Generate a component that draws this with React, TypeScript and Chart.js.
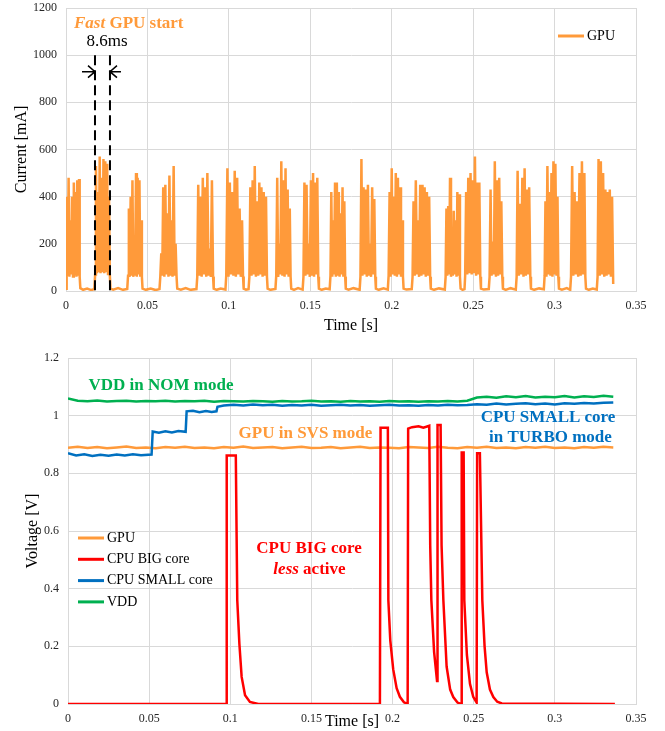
import { useEffect, useRef } from 'react';
import { Chart, registerables } from 'chart.js';

Chart.register(...registerables);

const SERIF = '"Liberation Serif", "Times New Roman", serif';

// ---------- Top chart: GPU current (time in ms, current in mA) ----------
const gpuTimeMs = [
  0, 0.2, 0.6, 1.1, 1.6, 2.1, 2.7, 3.2, 3.7, 4.3, 4.8, 5.3, 5.9, 6.4, 6.9, 7.5, 8.0, 8.4, 8.8,
  10.5, 13, 15.5, 17.4,
  17.9, 18.4, 19.0, 19.5, 20.1, 20.7, 21.2, 21.8, 22.4, 23.0, 23.5, 24.1, 24.7, 25.3, 25.8, 26.4, 26.9, 27.3,
  29, 32, 35, 37.6,
  38.1, 38.6, 39.1, 39.7, 40.2, 40.8, 41.3, 41.9, 42.4, 43.0, 43.5, 44.0, 44.6, 45.1, 45.6, 46.2, 46.6, 47.0,
  49, 52, 55, 57.4,
  57.9, 58.5, 59.1, 59.7, 60.4, 61.0, 61.6, 62.3, 62.9, 63.5, 64.2, 64.8, 65.4, 66.1, 66.7, 67.3, 67.9, 68.3,
  70.5, 73.5, 76.5, 80.1,
  80.6, 81.2, 81.9, 82.6, 83.3, 84.0, 84.7, 85.4, 86.1, 86.8, 87.5, 88.2, 88.9, 89.6, 90.3, 90.7,
  92.5, 95, 97.9,
  98.4, 99.1, 99.8, 100.6, 101.3, 102.1, 102.8, 103.6, 104.3, 105.1, 105.8, 106.6, 107.3, 108.1, 108.7, 109.1,
  110.5, 112.1,
  112.6, 113.2, 113.9, 114.6, 115.3, 115.9, 116.6, 117.3, 118.0, 118.7, 119.3, 120.0, 120.7, 121.4, 122.1, 122.8, 123.4, 123.8,
  125.5, 128.6,
  129.1, 129.7, 130.3, 131.0, 131.6, 132.2, 132.9, 133.5, 134.2, 134.8, 135.4, 136.1, 136.7, 137.4, 137.9, 138.3,
  140, 142.5, 145.3,
  145.8, 146.4, 147.0, 147.7, 148.4, 149.0, 149.7, 150.4, 151.0, 151.7, 152.3, 153.0, 153.7, 154.3, 154.9, 155.3,
  157, 159.5, 161.9,
  162.4, 162.9, 163.5, 164.0, 164.6, 165.2, 165.7, 166.3, 166.9, 167.5, 168.0, 168.6, 169.2, 169.8, 170.3, 170.9, 171.4, 171.8,
  173.5, 176.5, 180.3,
  180.8, 181.4, 182.0, 182.7, 183.4, 184.0, 184.7, 185.4, 186.0, 186.7, 187.3, 188.0, 188.7, 189.3, 189.9, 190.3,
  192, 195, 197.6,
  198.1, 198.7, 199.3, 200.0, 200.6, 201.2, 201.9, 202.5, 203.2, 203.8, 204.4, 205.1, 205.7, 206.4, 206.9, 207.3,
  209, 212.3,
  212.8, 213.4, 214.1, 214.8, 215.5, 216.1, 216.8, 217.5, 218.2, 218.9, 219.5, 220.2, 220.9, 221.6, 222.3, 223.0, 223.6, 224.0,
  226, 229, 232.6,
  233.1, 233.6, 234.1, 234.7, 235.3, 235.8, 236.4, 236.9, 237.5, 238.1, 238.6, 239.2, 239.8, 240.3, 240.9, 241.4, 241.9, 242.3,
  243.5, 244.7,
  245.1, 245.7, 246.4, 247.0, 247.7, 248.4, 249.1, 249.8, 250.4, 251.1, 251.8, 252.5, 253.2, 253.8, 254.4, 254.8,
  256.5, 259.6,
  260.1, 260.7, 261.3, 262.0, 262.7, 263.3, 264.0, 264.7, 265.3, 266.0, 266.7, 267.3, 267.9, 268.3,
  270, 273, 276.2,
  276.7, 277.3, 278.0, 278.7, 279.5, 280.2, 280.9, 281.6, 282.3, 283.0, 283.7, 284.4, 285.1, 285.5,
  287.5, 290.5, 293.4,
  293.9, 294.4, 295.0, 295.6, 296.3, 296.9, 297.5, 298.1, 298.7, 299.3, 299.9, 300.5, 301.2, 301.8, 302.3, 302.7,
  304.5, 307.5, 309.6,
  310.1, 310.8, 311.5, 312.3, 313.0, 313.8, 314.5, 315.3, 316.0, 316.8, 317.5, 318.3, 318.9, 319.3,
  321, 323.5, 325.9,
  326.4, 327.0, 327.7, 328.4, 329.1, 329.8, 330.5, 331.2, 331.9, 332.6, 333.2, 333.9, 334.6, 335.3, 336.0,
];
const gpuCurrentMa = [
  10, 60, 400, 65, 480, 60, 300, 70, 400, 62, 460, 68, 420, 60, 470, 65, 475, 60, 12,
  5, 10, 4, 8,
  70, 530, 75, 420, 80, 570, 75, 480, 80, 560, 75, 550, 80, 540, 72, 400, 70, 10,
  6, 12, 5, 9,
  65, 350, 60, 400, 65, 470, 60, 200, 65, 500, 60, 480, 70, 470, 60, 300, 60, 10,
  5, 10, 4, 8,
  60, 160, 65, 440, 60, 450, 70, 330, 60, 490, 65, 300, 60, 530, 65, 200, 60, 10,
  6, 12, 5, 8,
  60, 450, 65, 400, 60, 480, 70, 440, 60, 500, 65, 180, 60, 470, 62, 10,
  5, 10, 6,
  65, 520, 60, 460, 70, 420, 65, 510, 60, 480, 70, 350, 60, 300, 62, 10,
  6, 8,
  60, 440, 65, 470, 70, 530, 60, 380, 65, 460, 70, 440, 60, 420, 65, 400, 60, 10,
  5, 9,
  65, 480, 60, 200, 70, 550, 65, 470, 60, 520, 70, 430, 60, 350, 62, 10,
  5, 12, 6,
  60, 460, 65, 450, 70, 200, 60, 470, 65, 500, 60, 460, 70, 480, 60, 10,
  5, 10, 7,
  65, 420, 60, 300, 70, 460, 60, 460, 65, 420, 60, 330, 70, 440, 60, 380, 62, 10,
  6, 12, 5,
  60, 560, 65, 440, 70, 430, 60, 450, 65, 200, 60, 440, 70, 390, 60, 10,
  5, 11, 6,
  65, 420, 60, 520, 70, 400, 65, 500, 60, 480, 70, 440, 60, 300, 62, 10,
  6, 8,
  60, 380, 65, 470, 70, 300, 60, 450, 65, 450, 70, 440, 60, 420, 65, 400, 60, 10,
  5, 11, 6,
  60, 350, 65, 360, 70, 480, 60, 220, 65, 340, 70, 300, 60, 420, 65, 410, 60, 10,
  5, 8,
  65, 420, 70, 480, 75, 500, 70, 470, 75, 570, 65, 460, 70, 460, 60, 10,
  6, 8,
  60, 430, 65, 210, 70, 550, 60, 470, 65, 480, 70, 380, 60, 10,
  5, 12, 6,
  60, 510, 65, 370, 70, 480, 60, 520, 65, 430, 70, 440, 60, 10,
  5, 11, 7,
  65, 380, 60, 530, 70, 420, 65, 500, 60, 550, 70, 540, 65, 400, 60, 10,
  6, 12, 5,
  60, 530, 65, 420, 70, 380, 60, 500, 65, 550, 70, 500, 60, 10,
  5, 10, 6,
  60, 560, 65, 550, 70, 500, 60, 430, 65, 420, 70, 430, 60, 400, 30,
];
const currentTicks = { min: 0, max: 1200, step: 200 };
const timeTicks = { min: 0, max: 0.35, step: 0.05 };
const markerTimes = [0.0178, 0.027]; // s, "8.6ms" window
const markerTop = 1000; // mA
const arrowLevel = 930; // mA

// ---------- Bottom chart: voltages ----------
const voltTime = [
  0, 0.006, 0.012, 0.018, 0.024, 0.03, 0.036, 0.042, 0.048, 0.054,
  0.06, 0.066, 0.072, 0.078, 0.084, 0.09, 0.096, 0.102, 0.108, 0.114,
  0.12, 0.126, 0.132, 0.138, 0.144, 0.15, 0.156, 0.162, 0.168, 0.174,
  0.18, 0.186, 0.192, 0.198, 0.204, 0.21, 0.216, 0.222, 0.228, 0.234,
  0.24, 0.246, 0.252, 0.258, 0.264, 0.27, 0.276, 0.282, 0.288, 0.294,
  0.3, 0.306, 0.312, 0.318, 0.324, 0.33, 0.336,
];
const gpuVolt = [
  0.889, 0.892, 0.888, 0.891, 0.887, 0.890, 0.893, 0.888, 0.890, 0.887,
  0.891, 0.889, 0.892, 0.888, 0.890, 0.887, 0.891, 0.889, 0.893, 0.888,
  0.890, 0.891, 0.887, 0.890, 0.892, 0.888, 0.889, 0.891, 0.887, 0.890,
  0.892, 0.888, 0.890, 0.889, 0.887, 0.891, 0.890, 0.888, 0.892, 0.889,
  0.887, 0.891, 0.889, 0.892, 0.888, 0.890, 0.887, 0.891, 0.889, 0.892,
  0.888, 0.890, 0.887, 0.891, 0.889, 0.892, 0.890,
];
const vddVolt = [
  1.060, 1.052, 1.050, 1.053, 1.049, 1.051, 1.052, 1.049, 1.051, 1.050,
  1.052, 1.049, 1.051, 1.050, 1.052, 1.048, 1.051, 1.050, 1.049, 1.051,
  1.050, 1.048, 1.051, 1.049, 1.050, 1.052, 1.049, 1.050, 1.048, 1.051,
  1.049, 1.050, 1.048, 1.051, 1.049, 1.050, 1.048, 1.050, 1.049, 1.051,
  1.049, 1.052, 1.063, 1.066, 1.062, 1.067, 1.064, 1.068, 1.063, 1.066,
  1.064, 1.068, 1.063, 1.067, 1.065, 1.069, 1.066,
];
const smallTime = [
  0, 0.005, 0.01, 0.015, 0.02, 0.025, 0.03, 0.035, 0.04, 0.045,
  0.0515, 0.0522, 0.056, 0.06, 0.064, 0.068, 0.0725,
  0.0731, 0.077, 0.081, 0.085, 0.0885, 0.0915,
  0.0921, 0.096,
  0.102, 0.108, 0.114, 0.12, 0.126, 0.132, 0.138, 0.144, 0.15, 0.156,
  0.162, 0.168, 0.174, 0.18, 0.186, 0.192, 0.198, 0.204, 0.21, 0.216,
  0.222, 0.228, 0.234, 0.24, 0.246, 0.252, 0.258, 0.264, 0.27, 0.276,
  0.282, 0.288, 0.294, 0.3, 0.306, 0.312, 0.318, 0.324, 0.33, 0.336,
];
const smallVolt = [
  0.870, 0.862, 0.866, 0.860, 0.864, 0.861, 0.865, 0.862, 0.866, 0.863,
  0.865, 0.945, 0.941, 0.946, 0.942, 0.947, 0.944,
  1.015, 1.017, 1.012, 1.016, 1.013, 1.015,
  1.031, 1.035,
  1.038, 1.035, 1.039, 1.036, 1.038, 1.034, 1.037, 1.035, 1.038, 1.034,
  1.036, 1.038, 1.035, 1.037, 1.034, 1.036, 1.038, 1.035, 1.036, 1.034,
  1.037, 1.035, 1.038, 1.036, 1.037, 1.040, 1.038, 1.042, 1.039, 1.041,
  1.043, 1.040, 1.042, 1.039, 1.043, 1.041, 1.044, 1.042, 1.045, 1.046,
];
const bigTime = [
  0, 0.0975, 0.0978, 0.1034, 0.1043, 0.1056, 0.107, 0.1091, 0.1121, 0.1173,
  0.1922, 0.1926, 0.1971, 0.1974, 0.1986, 0.2004, 0.2025, 0.2045, 0.207, 0.2093,
  0.2096, 0.212, 0.216, 0.219, 0.2226, 0.2232, 0.2239, 0.2256, 0.2274,
  0.2277, 0.2296, 0.2302, 0.2313, 0.2333, 0.2355, 0.2374, 0.24, 0.2422,
  0.2426, 0.2438, 0.2442, 0.2458, 0.2477, 0.2497, 0.2518,
  0.2521, 0.2538, 0.2553, 0.2567, 0.258, 0.26, 0.2621, 0.2645, 0.2673, 0.337,
];
const bigVolt = [
  0, 0, 0.862, 0.862, 0.36, 0.209, 0.094, 0.03, 0.007, 0,
  0, 0.958, 0.958, 0.36, 0.22, 0.12, 0.055, 0.025, 0.006, 0,
  0.955, 0.96, 0.963, 0.958, 0.965, 0.55, 0.36, 0.18, 0.08,
  0.968, 0.968, 0.55, 0.36, 0.13, 0.05, 0.024, 0.005, 0,
  0.872, 0.872, 0.36, 0.17, 0.07, 0.025, 0.005,
  0.87, 0.87, 0.36, 0.2, 0.11, 0.05, 0.024, 0.008, 0.002, 0,
];
const voltTicks = { min: 0, max: 1.2, step: 0.2 };

const ORANGE = '#FF9A3A';
const RED = '#FF0000';
const BLUE = '#0070C0';
const GREEN = '#00B050';
const GRID = '#D9D9D9';

type Part = { text: string; italic?: boolean };

function fontStr(size: number, bold: boolean, italic?: boolean) {
  return `${italic ? 'italic ' : ''}${bold ? 'bold ' : ''}${size}px ${SERIF}`;
}

function plainNumber(v: number | string) {
  return String(parseFloat(Number(v).toFixed(4)));
}

function drawRich(ctx: CanvasRenderingContext2D, parts: Part[], x: number, y: number, color: string, size: number, bold: boolean, align: 'left' | 'center') {
  ctx.fillStyle = color;
  ctx.textBaseline = 'middle';
  ctx.textAlign = 'left';
  let w = 0;
  for (const p of parts) {
    ctx.font = fontStr(size, bold, p.italic);
    w += ctx.measureText(p.text).width;
  }
  let cx = align === 'center' ? x - w / 2 : x;
  for (const p of parts) {
    ctx.font = fontStr(size, bold, p.italic);
    ctx.fillText(p.text, cx, y);
    cx += ctx.measureText(p.text).width;
  }
}

function legendPlugin(id: string, place: (a: any) => { x: number; y: number; dy: number }) {
  return {
    id,
    afterDraw(chart: any) {
      const { ctx, chartArea } = chart;
      const { x, y, dy } = place(chartArea);
      ctx.save();
      chart.data.datasets.forEach((ds: any, i: number) => {
        const yy = y + i * dy;
        ctx.strokeStyle = ds.borderColor;
        ctx.lineWidth = 3;
        ctx.beginPath();
        ctx.moveTo(x, yy);
        ctx.lineTo(x + 26, yy);
        ctx.stroke();
        ctx.fillStyle = '#000';
        ctx.font = fontStr(14, false);
        ctx.textBaseline = 'middle';
        ctx.textAlign = 'left';
        ctx.fillText(ds.label, x + 29, yy);
      });
      ctx.restore();
    },
  };
}

const topAnnotations = {
  id: 'topAnnotations',
  afterDatasetsDraw(chart: any) {
    const { ctx } = chart;
    const xs = chart.scales.x;
    const ys = chart.scales.y;
    ctx.save();
    ctx.strokeStyle = '#000';
    ctx.lineWidth = 2;
    ctx.setLineDash([10, 5]);
    for (const t of markerTimes) {
      const px = xs.getPixelForValue(t);
      ctx.beginPath();
      ctx.moveTo(px, ys.getPixelForValue(markerTop));
      ctx.lineTo(px, ys.getPixelForValue(0));
      ctx.stroke();
    }
    ctx.setLineDash([]);
    const ay = ys.getPixelForValue(arrowLevel);
    const x1 = xs.getPixelForValue(markerTimes[0]);
    const x2 = xs.getPixelForValue(markerTimes[1]);
    ctx.lineWidth = 1.5;
    const arrow = (from: number, to: number) => {
      const d = Math.sign(to - from);
      ctx.beginPath();
      ctx.moveTo(from, ay);
      ctx.lineTo(to, ay);
      ctx.moveTo(to - d * 7, ay - 6);
      ctx.lineTo(to, ay);
      ctx.lineTo(to - d * 7, ay + 6);
      ctx.stroke();
    };
    arrow(x1 - 13, x1);
    arrow(x2 + 11, x2);
    drawRich(ctx, [{ text: '8.6ms' }], xs.getPixelForValue(0.0252), ys.getPixelForValue(1056), '#000', 17, false, 'center');
    drawRich(ctx, [{ text: 'Fast', italic: true }, { text: ' GPU start' }], xs.getPixelForValue(0.0049), ys.getPixelForValue(1134), ORANGE, 17, true, 'left');
    ctx.restore();
  },
};

const bottomAnnotations = {
  id: 'bottomAnnotations',
  afterDatasetsDraw(chart: any) {
    const { ctx } = chart;
    const xs = chart.scales.x;
    const ys = chart.scales.y;
    ctx.save();
    const put = (parts: Part[], t: number, v: number, color: string) =>
      drawRich(ctx, parts, xs.getPixelForValue(t), ys.getPixelForValue(v), color, 17, true, 'center');
    put([{ text: 'VDD in NOM mode' }], 0.0573, 1.104, GREEN);
    put([{ text: 'GPU in SVS mode' }], 0.1463, 0.9376, ORANGE);
    put([{ text: 'CPU SMALL core' }], 0.2958, 0.9931, BLUE);
    put([{ text: 'in TURBO mode' }], 0.2973, 0.9237, BLUE);
    put([{ text: 'CPU BIG core' }], 0.1485, 0.539, RED);
    put([{ text: 'less', italic: true }, { text: ' active' }], 0.1488, 0.466, RED);
    ctx.restore();
  },
};

function xy(xs: number[], ys: number[], scale = 1) {
  return xs.map((x, i) => ({ x: x * scale, y: ys[i] }));
}

function axisX(fitHeight: number, titlePadBottom: number) {
  return {
    type: 'linear' as const,
    min: timeTicks.min,
    max: timeTicks.max,
    ticks: { stepSize: timeTicks.step, color: '#262626', font: { family: SERIF, size: 12 }, padding: 8, maxRotation: 0, callback: plainNumber },
    grid: { color: GRID, drawTicks: false },
    border: { color: GRID },
    title: { display: true, text: 'Time [s]', color: '#000', font: { family: SERIF, size: 16 }, padding: { top: 0, bottom: titlePadBottom } },
    afterFit: (s: any) => { s.height = fitHeight; },
  };
}

function axisY(min: number, max: number, step: number, title: string, width: number, titlePad: number) {
  return {
    type: 'linear' as const,
    min,
    max,
    ticks: { stepSize: step, color: '#262626', font: { family: SERIF, size: 12 }, padding: 9, callback: plainNumber },
    grid: { color: GRID, drawTicks: false },
    border: { color: GRID },
    title: { display: true, text: title, color: '#000', font: { family: SERIF, size: 16 }, padding: { top: titlePad, bottom: 0 } },
    afterFit: (s: any) => { s.width = width; s.paddingTop = 0; s.paddingBottom = 0; },
  };
}

function TopChart() {
  const ref = useRef<HTMLCanvasElement>(null);
  useEffect(() => {
    const chart = new Chart(ref.current!, {
      type: 'line',
      data: {
        datasets: [
          { label: 'GPU', data: xy(gpuTimeMs, gpuCurrentMa, 0.001), borderColor: ORANGE, backgroundColor: ORANGE, borderWidth: 2.5, pointRadius: 0, tension: 0 },
        ],
      },
      options: {
        animation: false,
        responsive: false,
        devicePixelRatio: 1,
        layout: { padding: { top: 8, right: 29, left: 0, bottom: 0 } },
        plugins: { legend: { display: false }, tooltip: { enabled: false } },
        scales: {
          x: axisX(49, 5),
          y: axisY(currentTicks.min, currentTicks.max, currentTicks.step, 'Current [mA]', 66, 12),
        },
      },
      plugins: [topAnnotations, legendPlugin('topLegend', (a) => ({ x: a.right - 78, y: a.top + 28, dy: 0 }))],
    } as any);
    return () => chart.destroy();
  }, []);
  return <canvas ref={ref} width={665} height={340} style={{ position: 'absolute', left: 0, top: 0 }} />;
}

function BottomChart() {
  const ref = useRef<HTMLCanvasElement>(null);
  useEffect(() => {
    const common = { borderWidth: 2.5, pointRadius: 0, tension: 0 };
    const chart = new Chart(ref.current!, {
      type: 'line',
      data: {
        datasets: [
          { label: 'GPU', data: xy(voltTime, gpuVolt), borderColor: ORANGE, backgroundColor: ORANGE, order: 2, ...common },
          { label: 'CPU BIG core', data: xy(bigTime, bigVolt), borderColor: RED, backgroundColor: RED, order: 0, ...common },
          { label: 'CPU SMALL core', data: xy(smallTime, smallVolt), borderColor: BLUE, backgroundColor: BLUE, order: 1, ...common },
          { label: 'VDD', data: xy(voltTime, vddVolt), borderColor: GREEN, backgroundColor: GREEN, order: 3, ...common },
        ],
      },
      options: {
        animation: false,
        responsive: false,
        devicePixelRatio: 1,
        layout: { padding: { top: 18, right: 29, left: 0, bottom: 0 } },
        plugins: { legend: { display: false }, tooltip: { enabled: false } },
        scales: {
          x: axisX(27, 0),
          y: axisY(voltTicks.min, voltTicks.max, voltTicks.step, 'Voltage [V]', 68, 23),
        },
      },
      plugins: [bottomAnnotations, legendPlugin('bottomLegend', (a) => ({ x: a.left + 10, y: a.top + 180, dy: 21.3 }))],
    } as any);
    return () => chart.destroy();
  }, []);
  return <canvas ref={ref} width={665} height={391} style={{ position: 'absolute', left: 0, top: 340 }} />;
}

export default function App() {
  return (
    <div style={{ position: 'absolute', left: 0, top: 0, width: 665, height: 731, background: '#fff' }}>
      <TopChart />
      <BottomChart />
    </div>
  );
}
